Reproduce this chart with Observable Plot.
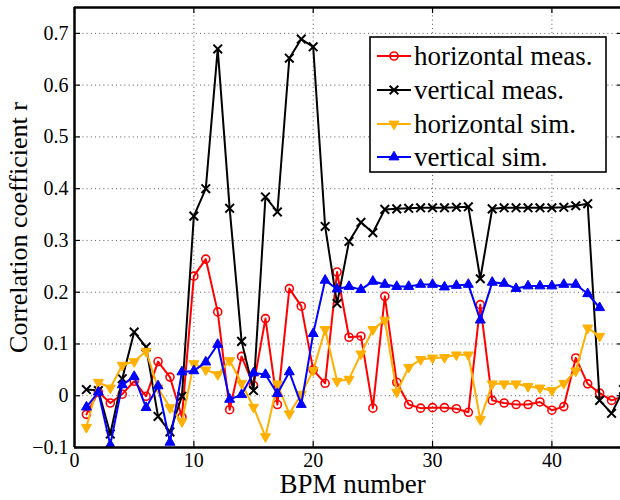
<!DOCTYPE html>
<html><head><meta charset="utf-8">
<script src="https://cdn.jsdelivr.net/npm/d3@7"></script>
<script src="https://cdn.jsdelivr.net/npm/@observablehq/plot@0.6"></script>
<style>html,body{margin:0;padding:0;background:#fff;overflow:hidden}</style>
</head><body><div id="chart"></div>
<script>
const bpm = [1,2,3,4,5,6,7,8,9,10,11,12,13,14,15,16,17,18,19,20,21,22,23,24,25,26,27,28,29,30,31,32,33,34,35,36,37,38,39,40,41,42,43,44,45,46];
const horizMeas = [-0.036,0.007,-0.014,0.003,0.028,-0.001,0.066,0.036,-0.041,0.231,0.264,0.162,-0.027,0.076,0.020,0.149,-0.017,0.207,0.173,0.050,0.024,0.239,0.113,0.115,-0.024,0.192,0.026,-0.017,-0.024,-0.023,-0.023,-0.025,-0.032,0.176,-0.009,-0.014,-0.017,-0.017,-0.012,-0.028,-0.021,0.073,0.023,0.005,-0.009,-0.001];
const vertMeas = [0.012,0.010,-0.074,0.033,0.123,0.094,-0.040,-0.070,-0.001,0.347,0.400,0.670,0.362,0.105,0.010,0.384,0.355,0.652,0.689,0.674,0.327,0.178,0.298,0.335,0.315,0.360,0.361,0.362,0.363,0.363,0.363,0.364,0.365,0.226,0.361,0.363,0.363,0.363,0.363,0.363,0.364,0.367,0.371,-0.009,-0.034,0.012];
const horizSim = [-0.061,0.026,0.015,0.059,0.066,0.086,0.015,-0.023,-0.050,0.062,0.050,0.041,0.068,0.024,-0.022,-0.079,0.023,-0.035,0.003,0.049,0.128,0.028,0.032,0.081,0.128,0.146,0.007,0.055,0.070,0.073,0.074,0.079,0.079,-0.046,0.023,0.023,0.023,0.018,0.015,0.010,0.024,0.048,0.131,0.115];
const vertSim = [-0.022,0.007,-0.095,0.021,0.037,-0.023,0.019,-0.090,0.046,0.048,0.065,0.099,-0.007,0.002,0.044,0.041,0.004,0.046,-0.017,0.120,0.223,0.206,0.211,0.205,0.221,0.215,0.211,0.211,0.215,0.215,0.210,0.213,0.215,0.146,0.219,0.217,0.207,0.212,0.212,0.212,0.215,0.215,0.197,0.170];
const seriesNames = ["horizontal meas.","vertical meas.","horizontal sim.","vertical sim."];
const seriesColors = ["#ff0000","#000000","#ffb000","#0000ff"];
const xTicks = [0,10,20,30,40];
const yTicks = [-0.1,0,0.1,0.2,0.3,0.4,0.5,0.6,0.7];

const s3 = Math.sqrt(3);
const triangleDown = {draw(ctx, size){ const y = -Math.sqrt(size/(s3*3)); ctx.moveTo(0,-2*y); ctx.lineTo(-s3*y, y); ctx.lineTo(s3*y, y); ctx.closePath(); }};
const triangleUp = d3.symbolTriangle;

const seriesValues = [horizMeas, vertMeas, horizSim, vertSim];
const series = seriesNames.map((name,k)=>({
  name, color: seriesColors[k],
  rows: seriesValues[k].map((v,i)=>({bpm: bpm[i], r: v}))
}));
const symbolDefs = [
  {symbol:"circle", r:4, fill:"none", sw:1.6},
  {symbol:"times", r:4, fill:"none", sw:2},
  {symbol:triangleDown, r:3.7, fill:true, sw:1},
  {symbol:triangleUp, r:3.7, fill:true, sw:1}
];

const W = 620, H = 500, mL = 74, mT = 7, mB = 53;
const frameH = H - mT - mB, frameW = W - mL;
const gridStyle = {stroke:"#333", strokeDasharray:"1,3.2", strokeWidth:1, strokeOpacity:0.8};

const marks = [
  Plot.ruleX(xTicks.filter(d=>d>0), {...gridStyle}),
  Plot.ruleY(yTicks.filter(d=>d>-0.1), {...gridStyle}),
];
series.forEach((s,k)=>{
  const sd = symbolDefs[k];
  marks.push(Plot.line(s.rows, {x:"bpm", y:"r", stroke:s.color, strokeWidth:2, clip:true}));
  marks.push(Plot.dot(s.rows, {x:"bpm", y:"r", symbol: sd.symbol, r: sd.r,
    fill: sd.fill === true ? s.color : "none", stroke: s.color, strokeWidth: sd.sw, clip:true}));
});
marks.push(
  Plot.tickX(xTicks, {x:d=>d, insetTop: frameH-6, strokeWidth:1.2}),
  Plot.tickX(xTicks, {x:d=>d, insetBottom: frameH-6, strokeWidth:1.2}),
  Plot.tickY(yTicks, {y:d=>d, insetRight: frameW-6, strokeWidth:1.2}),
  Plot.tickY(yTicks, {y:d=>d, insetLeft: frameW-3, strokeWidth:1.2}),
  Plot.ruleX([0], {strokeWidth:2.5}),
  Plot.ruleY([-0.1], {strokeWidth:2.5}),
  Plot.ruleY([0.75], {strokeWidth:2.5}),
  Plot.axisX({ticks:xTicks, tickSize:0, tickPadding:5, label:null, fontSize:20}),
  Plot.axisY({ticks:yTicks, tickSize:0, tickPadding:6, label:null, fontSize:20,
    tickFormat: d => d === 0 ? "0" : d3.format(".1f")(d)}),
  Plot.text(["BPM number"], {frameAnchor:"bottom", dy:37, dx:5, fontSize:27, lineAnchor:"middle", textAnchor:"middle"}),
  Plot.text(["Correlation coefficient r"], {frameAnchor:"left", rotate:-90, dx:-56, fontSize:26, textAnchor:"middle", lineAnchor:"middle"})
);

const plot = Plot.plot({
  width: W, height: H,
  marginLeft: mL, marginRight: 0, marginTop: mT, marginBottom: mB,
  x: {domain:[0,46], range:[mL, 623]},
  y: {domain:[-0.1, 0.75]},
  style: {fontFamily:"Liberation Serif", fontSize:"20px", background:"white", color:"black"},
  marks
});
document.getElementById("chart").append(plot);

// legend
const svg = d3.select(plot);
const lg = svg.append("g").attr("font-family","Liberation Serif").attr("font-size","27px").attr("text-anchor","start");
lg.append("rect").attr("x",370).attr("y",37).attr("width",236).attr("height",135)
  .attr("fill","white").attr("stroke","black").attr("stroke-width",1.6);
const rowY = [56, 90, 124, 157];
series.forEach((s,k)=>{
  const sd = symbolDefs[k];
  const y = rowY[k];
  lg.append("line").attr("x1",377).attr("x2",411).attr("y1",y).attr("y2",y)
    .attr("stroke",s.color).attr("stroke-width",2);
  const type = sd.symbol === "circle" ? d3.symbolCircle : sd.symbol === "times" ? d3.symbolTimes : sd.symbol;
  lg.append("path").attr("d", d3.symbol().type(type).size(sd.r*sd.r*Math.PI)())
    .attr("transform",`translate(394,${y})`)
    .attr("fill", sd.fill === true ? s.color : "none").attr("stroke", s.color).attr("stroke-width", sd.sw);
  lg.append("text").attr("x",414).attr("y",y).attr("dy","0.32em").attr("text-anchor","start").text(s.name);
});
</script></body></html>
